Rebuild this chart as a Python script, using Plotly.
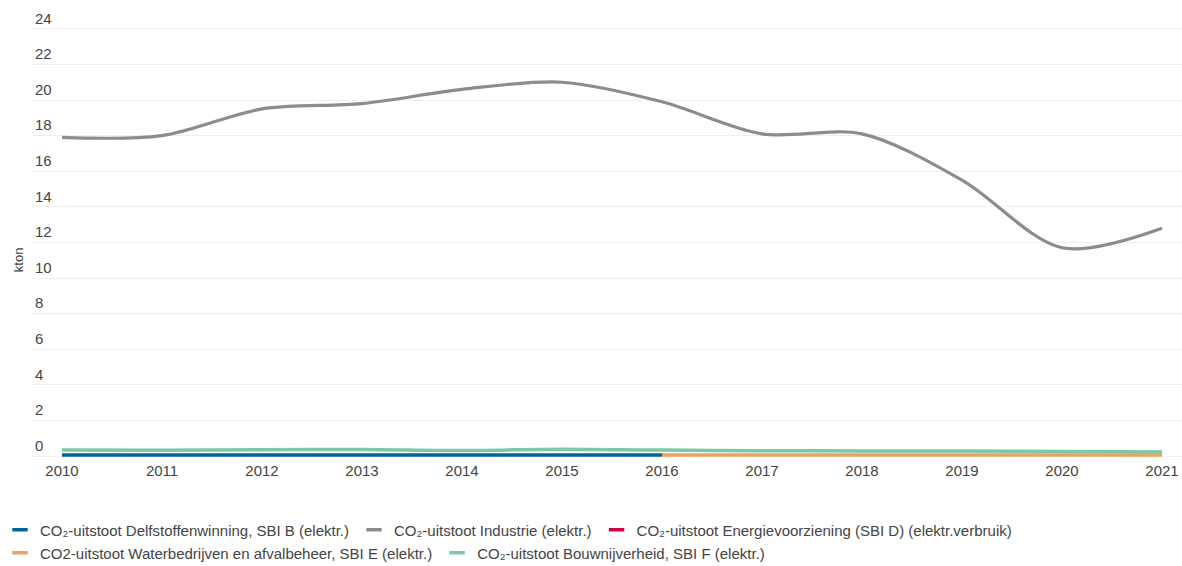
import plotly.graph_objects as go

years = list(range(2010, 2022))

names = [
    "CO₂-uitstoot Delfstoffenwinning, SBI B (elektr.)",
    "CO₂-uitstoot Industrie (elektr.)",
    "CO₂-uitstoot Energievoorziening (SBI D) (elektr.verbruik)",
    "CO2-uitstoot Waterbedrijven en afvalbeheer, SBI E (elektr.)",
    "CO₂-uitstoot Bouwnijverheid, SBI F (elektr.)",
]
colors = ["#00649b", "#8c8c8c", "#d1004f", "#eba35e", "#7ccaa3"]

delfstoffen = [0.05, 0.05, 0.05, 0.05, 0.05, 0.05, 0.05, None, None, None, None, None]
industrie = [17.9, 18.0, 19.5, 19.8, 20.6, 21.0, 19.9, 18.1, 18.1, 15.5, 11.7, 12.8]
energie = [None] * 12
water = [None, None, None, None, None, None, 0.05, 0.06, 0.06, 0.06, 0.05, 0.05]
bouw = [0.33, 0.32, 0.35, 0.37, 0.31, 0.38, 0.33, 0.30, 0.28, 0.28, 0.25, 0.22]

series = [delfstoffen, industrie, energie, water, bouw]
widths = [3.5, 3.2, 3.5, 3.5, 3.5]
legend_ids = ["legend", "legend", "legend", "legend2", "legend2"]

fig = go.Figure()
for name, vals, col, w in zip(names, series, colors, widths):
    fig.add_trace(go.Scatter(
        x=years, y=vals, mode="lines", name=name,
        line=dict(color=col, width=w, shape="spline", smoothing=0.9),
        showlegend=False, hoverinfo="x+y+name",
    ))
# legend entries with short line symbols
for name, col, lg in zip(names, colors, legend_ids):
    fig.add_trace(go.Scatter(
        x=[None], y=[None], mode="markers", name=name,
        marker=dict(symbol="line-ew-open", size=11, color=col,
                    line=dict(color=col, width=3.5)),
        showlegend=True, legend=lg,
    ))

font_fam = "Liberation Sans, Arial, sans-serif"
txt_col = "#444444"
leg_common = dict(
    orientation="h", xref="container", yref="container",
    x=0.0, xanchor="left", yanchor="middle",
    font=dict(size=15, color=txt_col, family=font_fam),
    itemwidth=30, traceorder="normal", bgcolor="rgba(0,0,0,0)",
)
fig.update_layout(
    width=1182, height=566,
    margin=dict(l=32, r=0, t=0, b=106, autoexpand=False),
    paper_bgcolor="white", plot_bgcolor="white",
    font=dict(family=font_fam, size=15, color=txt_col),
    showlegend=True,
    legend=dict(leg_common, y=1 - 530 / 566),
    legend2=dict(leg_common, y=1 - 553 / 566),
    xaxis=dict(
        range=[2009.7, 2021.2], tickmode="array", tickvals=years,
        ticktext=[str(y) for y in years], showgrid=False, zeroline=False,
        showline=False, ticks="", tickfont=dict(size=15, color=txt_col),
    ),
    yaxis=dict(
        range=[-0.225, 25.62], tickmode="array",
        tickvals=list(range(0, 25, 2)),
        ticktext=[str(v) for v in range(0, 25, 2)],
        ticklabelposition="inside top",
        showgrid=True, gridcolor="#efefef", gridwidth=1,
        zeroline=False, showline=False, ticks="",
        tickfont=dict(size=15, color=txt_col),
    ),
    annotations=[dict(
        text="kton", xref="paper", yref="y", x=0, y=11.0,
        xanchor="center", yanchor="middle", xshift=-14, textangle=-90,
        showarrow=False, font=dict(size=13, color=txt_col),
    )],
)

fig.write_html("out.html")
